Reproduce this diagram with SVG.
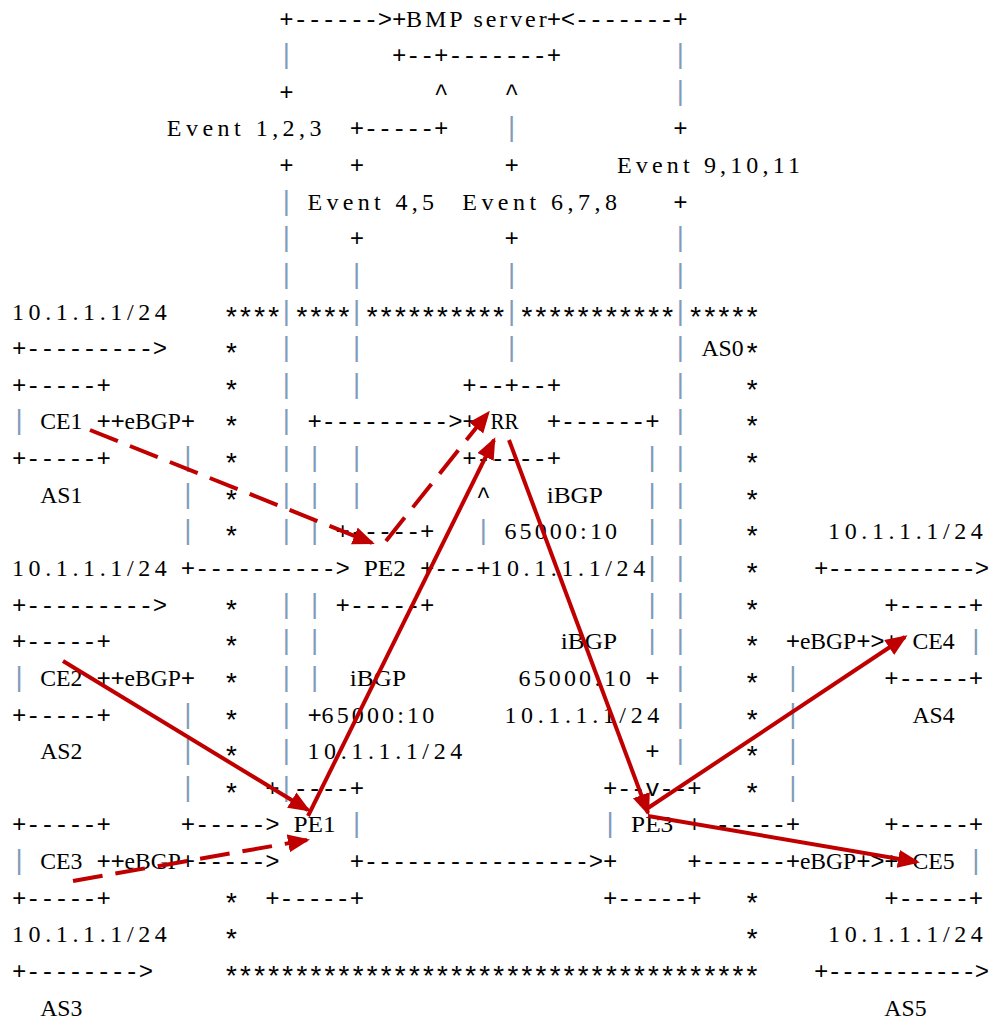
<svg xmlns="http://www.w3.org/2000/svg" width="993" height="1021" viewBox="0 0 993 1021">
<defs>
<style>
.m{font-family:"Liberation Mono",monospace;font-size:24px;letter-spacing:-0.332px;fill:#000}
.r{letter-spacing:-1.0px}
.st{font-family:"Liberation Mono",monospace;font-size:28px;letter-spacing:-2.734px;fill:#000}
.w{font-family:"Liberation Serif",serif;font-size:24px;fill:#000}
.b{font-family:"Liberation Mono",monospace;font-size:27px;fill:#7f9cba;text-anchor:middle}
.fl{stroke:#c00000;stroke-width:4;fill:none}
.d{stroke-dasharray:30 13}
</style>
<marker id="ah" markerUnits="userSpaceOnUse" markerWidth="24" markerHeight="20" refX="19" refY="9" orient="auto">
<path d="M0,0 L22,9 L0,18 z" fill="#c00000"/>
</marker>
</defs>
<rect width="993" height="1021" fill="#fff"/>

<g id="bmp-server">
<text class="m" x="391.89" y="26.5">+</text>
<text class="w" x="405.96" y="26.5" textLength="140.7" lengthAdjust="spacing">BMP server</text>
<text class="m" x="546.66" y="26.5">+</text>
<text class="m" x="391.89" y="63.1">+--+-------+</text>
</g>

<g id="ce1">
<text class="m" x="12" y="392.8">+-----+</text>
<text class="b" x="19" y="429.4">|</text>
<text class="w" x="40.14" y="429.4" textLength="42.2" lengthAdjust="spacingAndGlyphs">CE1</text>
<text class="m" x="96.42" y="429.4">+</text>
<text class="m" x="12" y="466.1">+-----+</text>
<text class="w" x="40.14" y="502.7" textLength="42.2" lengthAdjust="spacingAndGlyphs">AS1</text>
</g>

<g id="ce2">
<text class="m" x="12" y="649.2">+-----+</text>
<text class="b" x="19" y="685.8">|</text>
<text class="w" x="40.14" y="685.8" textLength="42.2" lengthAdjust="spacingAndGlyphs">CE2</text>
<text class="m" x="96.42" y="685.8">+</text>
<text class="m" x="12" y="722.5">+-----+</text>
<text class="w" x="40.14" y="759.1" textLength="42.2" lengthAdjust="spacingAndGlyphs">AS2</text>
</g>

<g id="ce3">
<text class="m" x="12" y="832.4">+-----+</text>
<text class="b" x="19" y="869">|</text>
<text class="w" x="40.14" y="869" textLength="42.2" lengthAdjust="spacingAndGlyphs">CE3</text>
<text class="m" x="96.42" y="869">+</text>
<text class="m" x="12" y="905.6">+-----+</text>
<text class="w" x="40.14" y="1015.5" textLength="42.2" lengthAdjust="spacingAndGlyphs">AS3</text>
</g>

<g id="ce4">
<text class="m" x="884.34" y="612.6">+-----+</text>
<text class="m" x="884.34" y="649.2">+</text>
<text class="w" x="912.48" y="649.2" textLength="42.2" lengthAdjust="spacingAndGlyphs">CE4</text>
<text class="b" x="975.8" y="649.2">|</text>
<text class="m" x="884.34" y="685.8">+-----+</text>
<text class="w" x="912.48" y="722.5" textLength="42.2" lengthAdjust="spacingAndGlyphs">AS4</text>
</g>

<g id="ce5">
<text class="m" x="884.34" y="832.4">+-----+</text>
<text class="m" x="884.34" y="869">+</text>
<text class="w" x="912.48" y="869" textLength="42.2" lengthAdjust="spacingAndGlyphs">CE5</text>
<text class="b" x="975.8" y="869">|</text>
<text class="m" x="884.34" y="905.6">+-----+</text>
<text class="w" x="884.34" y="1015.5" textLength="42.2" lengthAdjust="spacingAndGlyphs">AS5</text>
</g>

<g id="pe1">
<text class="m" x="265.26" y="795.7">+</text>
<text class="b" x="286.4" y="795.7">|</text>
<text class="m" x="293.4" y="795.7">----+</text>
<text class="w" x="293.4" y="832.4" textLength="42.2" lengthAdjust="spacingAndGlyphs">PE1</text>
<text class="b" x="356.7" y="832.4">|</text>
<text class="m" x="265.26" y="905.6">+-----+</text>
</g>

<g id="pe2">
<text class="m" x="335.61" y="539.3">+-----+</text>
<text class="w" x="363.75" y="576" textLength="42.2" lengthAdjust="spacingAndGlyphs">PE2</text>
<text class="m" x="335.61" y="612.6">+-----+</text>
</g>

<g id="pe3">
<text class="m" x="602.94" y="795.7">+--v--+</text>
<text class="b" x="610" y="832.4">|</text>
<text class="w" x="631.08" y="832.4" textLength="42.2" lengthAdjust="spacingAndGlyphs">PE3</text>
<text class="m" x="602.94" y="905.6">+-----+</text>
</g>

<g id="rr">
<text class="m" x="462.24" y="392.8">+--+--+</text>
<text class="w" x="490.38" y="429.4" textLength="28.1" lengthAdjust="spacingAndGlyphs">RR</text>
<text class="m" x="462.24" y="466.1">+-----+</text>
</g>

<g id="as0">
<text class="w" x="701.43" y="356.2" textLength="42.2" lengthAdjust="spacingAndGlyphs">AS0</text>
<g transform="translate(0,7)">
<text class="st" x="223.05" y="319.5">****</text>
<text class="st" x="293.4" y="319.5">****</text>
<text class="st" x="363.75" y="319.5">**********</text>
<text class="st" x="518.52" y="319.5">***********</text>
<text class="st" x="687.36" y="319.5">*****</text>
<text class="st" x="223.05" y="356.2">*</text><text class="st" x="743.64" y="356.2">*</text>
<text class="st" x="223.05" y="392.8">*</text><text class="st" x="743.64" y="392.8">*</text>
<text class="st" x="223.05" y="429.4">*</text><text class="st" x="743.64" y="429.4">*</text>
<text class="st" x="223.05" y="466.1">*</text><text class="st" x="743.64" y="466.1">*</text>
<text class="st" x="223.05" y="502.7">*</text><text class="st" x="743.64" y="502.7">*</text>
<text class="st" x="223.05" y="539.3">*</text><text class="st" x="743.64" y="539.3">*</text>
<text class="st" x="743.64" y="576">*</text>
<text class="st" x="223.05" y="612.6">*</text><text class="st" x="743.64" y="612.6">*</text>
<text class="st" x="223.05" y="649.2">*</text><text class="st" x="743.64" y="649.2">*</text>
<text class="st" x="223.05" y="685.8">*</text><text class="st" x="743.64" y="685.8">*</text>
<text class="st" x="223.05" y="722.5">*</text><text class="st" x="743.64" y="722.5">*</text>
<text class="st" x="223.05" y="759.1">*</text><text class="st" x="743.64" y="759.1">*</text>
<text class="st" x="223.05" y="795.7">*</text><text class="st" x="743.64" y="795.7">*</text>
<text class="st" x="223.05" y="905.6">*</text><text class="st" x="743.64" y="905.6">*</text>
<text class="st" x="223.05" y="942.3">*</text><text class="st" x="743.64" y="942.3">*</text>
<text class="st" x="223.05" y="978.9">**************************************</text>
</g>
</g>

<g id="connectors">
<g id="ascii-links">
<text class="m" x="279.33" y="26.5">+------&gt;</text>
<text class="m" x="560.73" y="26.5">&lt;-------+</text>
<text class="b" x="286.4" y="63.1">|</text><text class="b" x="680.3" y="63.1">|</text>
<text class="m" x="279.33" y="99.8">+</text><text class="m" x="434.1" y="99.8">^</text><text class="m" x="504.45" y="99.8">^</text><text class="b" x="680.3" y="99.8">|</text>
<text class="m" x="349.68" y="136.4">+-----+</text><text class="b" x="511.5" y="136.4">|</text><text class="m" x="673.29" y="136.4">+</text>
<text class="m" x="279.33" y="173">+</text><text class="m" x="349.68" y="173">+</text><text class="m" x="504.45" y="173">+</text>
<text class="b" x="286.4" y="209.7">|</text><text class="m" x="673.29" y="209.7">+</text>
<text class="b" x="286.4" y="246.3">|</text><text class="m" x="349.68" y="246.3">+</text><text class="m" x="504.45" y="246.3">+</text><text class="b" x="680.3" y="246.3">|</text>
<text class="b" x="286.4" y="282.9">|</text><text class="b" x="356.7" y="282.9">|</text><text class="b" x="511.5" y="282.9">|</text><text class="b" x="680.3" y="282.9">|</text>
<text class="b" x="286.4" y="319.5">|</text><text class="b" x="356.7" y="319.5">|</text><text class="b" x="511.5" y="319.5">|</text><text class="b" x="680.3" y="319.5">|</text>
<text class="m" x="12" y="356.2">+---------&gt;</text>
<text class="b" x="286.4" y="356.2">|</text><text class="b" x="356.7" y="356.2">|</text><text class="b" x="511.5" y="356.2">|</text><text class="b" x="680.3" y="356.2">|</text>
<text class="b" x="286.4" y="392.8">|</text><text class="b" x="356.7" y="392.8">|</text><text class="b" x="680.3" y="392.8">|</text>
<text class="m" x="110.49" y="429.4">+</text>
<text class="w" x="124.56" y="429.4" textLength="56.3" lengthAdjust="spacingAndGlyphs">eBGP</text>
<text class="m" x="180.84" y="429.4">+</text>
<text class="b" x="286.4" y="429.4">|</text>
<text class="m" x="307.47" y="429.4">+---------&gt;+</text>
<text class="m" x="546.66" y="429.4">+------+</text>
<text class="b" x="680.3" y="429.4">|</text>
<text class="b" x="187.9" y="466.1">|</text><text class="b" x="286.4" y="466.1">|</text><text class="b" x="314.5" y="466.1">|</text><text class="b" x="356.7" y="466.1">|</text><text class="b" x="652.2" y="466.1">|</text><text class="b" x="680.3" y="466.1">|</text>
<text class="b" x="187.9" y="502.7">|</text><text class="b" x="286.4" y="502.7">|</text><text class="b" x="314.5" y="502.7">|</text><text class="b" x="356.7" y="502.7">|</text><text class="m" x="476.31" y="502.7">^</text><text class="b" x="652.2" y="502.7">|</text><text class="b" x="680.3" y="502.7">|</text>
<text class="b" x="187.9" y="539.3">|</text><text class="b" x="286.4" y="539.3">|</text><text class="b" x="314.5" y="539.3">|</text><text class="b" x="483.3" y="539.3">|</text><text class="b" x="652.2" y="539.3">|</text><text class="b" x="680.3" y="539.3">|</text>
<text class="m" x="180.84" y="576">+----------&gt;</text>
<text class="m" x="420.03" y="576">+---+</text>
<text class="b" x="652.2" y="576">|</text><text class="b" x="680.3" y="576">|</text>
<text class="m r" x="813.99" y="576">+-----------&gt;</text>
<text class="m" x="12" y="612.6">+---------&gt;</text>
<text class="b" x="286.4" y="612.6">|</text><text class="b" x="314.5" y="612.6">|</text><text class="b" x="652.2" y="612.6">|</text><text class="b" x="680.3" y="612.6">|</text>
<text class="b" x="286.4" y="649.2">|</text><text class="b" x="314.5" y="649.2">|</text><text class="b" x="652.2" y="649.2">|</text><text class="b" x="680.3" y="649.2">|</text>
<text class="m" x="785.85" y="649.2">+</text>
<text class="w" x="799.92" y="649.2" textLength="56.3" lengthAdjust="spacingAndGlyphs">eBGP</text>
<text class="m" x="856.2" y="649.2">+&gt;</text>
<text class="m" x="110.49" y="685.8">+</text>
<text class="w" x="124.56" y="685.8" textLength="56.3" lengthAdjust="spacingAndGlyphs">eBGP</text>
<text class="m" x="180.84" y="685.8">+</text>
<text class="b" x="286.4" y="685.8">|</text><text class="b" x="314.5" y="685.8">|</text><text class="m" x="645.15" y="685.8">+</text><text class="b" x="680.3" y="685.8">|</text><text class="b" x="792.9" y="685.8">|</text>
<text class="b" x="187.9" y="722.5">|</text><text class="b" x="286.4" y="722.5">|</text><text class="m" x="307.47" y="722.5">+</text><text class="b" x="680.3" y="722.5">|</text><text class="b" x="792.9" y="722.5">|</text>
<text class="b" x="187.9" y="759.1">|</text><text class="b" x="286.4" y="759.1">|</text><text class="m" x="645.15" y="759.1">+</text><text class="b" x="680.3" y="759.1">|</text><text class="b" x="792.9" y="759.1">|</text>
<text class="b" x="187.9" y="795.7">|</text><text class="b" x="792.9" y="795.7">|</text>
<text class="m" x="180.84" y="832.4">+-----&gt;</text>
<text class="m" x="687.36" y="832.4">+------+</text>
<text class="m" x="110.49" y="869">+</text>
<text class="w" x="124.56" y="869" textLength="56.3" lengthAdjust="spacingAndGlyphs">eBGP</text>
<text class="m" x="180.84" y="869">+-----&gt;</text>
<text class="m" x="349.68" y="869">+----------------&gt;+</text>
<text class="m" x="687.36" y="869">+------+</text>
<text class="w" x="799.92" y="869" textLength="56.3" lengthAdjust="spacingAndGlyphs">eBGP</text>
<text class="m" x="856.2" y="869">+&gt;</text>
<text class="m" x="12" y="978.9">+--------&gt;</text>
<text class="m r" x="813.99" y="978.9">+-----------&gt;</text>
</g>
<g id="labels">
<text class="w" x="166.77" y="136.4" textLength="154.8" lengthAdjust="spacing">Event 1,2,3</text>
<text class="w" x="617.01" y="173" textLength="182.9" lengthAdjust="spacing">Event 9,10,11</text>
<text class="w" x="307.47" y="209.7" textLength="126.6" lengthAdjust="spacing">Event 4,5</text>
<text class="w" x="462.24" y="209.7" textLength="154.8" lengthAdjust="spacing">Event 6,7,8</text>
<text class="w" x="12" y="319.5" textLength="154.8" lengthAdjust="spacing">10.1.1.1/24</text>
<text class="w" x="546.66" y="502.7" textLength="56.3" lengthAdjust="spacingAndGlyphs">iBGP</text>
<text class="w" x="504.45" y="539.3" textLength="112.6" lengthAdjust="spacing">65000:10</text>
<text class="w" x="828.06" y="539.3" textLength="154.8" lengthAdjust="spacing">10.1.1.1/24</text>
<text class="w" x="12" y="576" textLength="154.8" lengthAdjust="spacing">10.1.1.1/24</text>
<text class="w" x="490.38" y="576" textLength="154.8" lengthAdjust="spacing">10.1.1.1/24</text>
<text class="w" x="560.73" y="649.2" textLength="56.3" lengthAdjust="spacingAndGlyphs">iBGP</text>
<text class="w" x="349.68" y="685.8" textLength="56.3" lengthAdjust="spacingAndGlyphs">iBGP</text>
<text class="w" x="518.52" y="685.8" textLength="112.6" lengthAdjust="spacing">65000:10</text>
<text class="w" x="321.54" y="722.5" textLength="112.6" lengthAdjust="spacing">65000:10</text>
<text class="w" x="504.45" y="722.5" textLength="154.8" lengthAdjust="spacing">10.1.1.1/24</text>
<text class="w" x="307.47" y="759.1" textLength="154.8" lengthAdjust="spacing">10.1.1.1/24</text>
<text class="w" x="12" y="942.3" textLength="154.8" lengthAdjust="spacing">10.1.1.1/24</text>
<text class="w" x="828.06" y="942.3" textLength="154.8" lengthAdjust="spacing">10.1.1.1/24</text>
</g>
<g id="flow-arrows">
<line class="fl d" x1="90" y1="430" x2="372" y2="543" marker-end="url(#ah)"/>
<line class="fl d" x1="386" y1="541" x2="488" y2="413" marker-end="url(#ah)"/>
<line class="fl" x1="63" y1="661" x2="308" y2="810" marker-end="url(#ah)"/>
<line class="fl d" x1="73" y1="881" x2="307" y2="840" marker-end="url(#ah)"/>
<line class="fl" x1="308" y1="816" x2="494" y2="440" marker-end="url(#ah)"/>
<line class="fl" x1="509" y1="440" x2="648" y2="813" marker-end="url(#ah)"/>
<line class="fl" x1="648" y1="808" x2="905" y2="637" marker-end="url(#ah)"/>
<line class="fl" x1="648" y1="816" x2="917" y2="862" marker-end="url(#ah)"/>
</g>
</g>
</svg>
